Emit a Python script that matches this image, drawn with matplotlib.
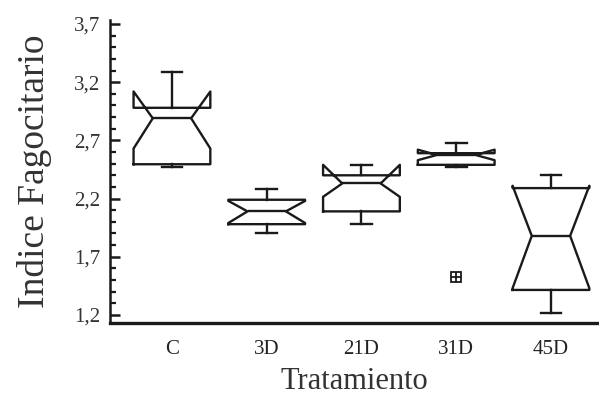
import matplotlib
matplotlib.use("Agg")
import matplotlib.pyplot as plt
from matplotlib.ticker import MultipleLocator

# data
groups = ["C", "3D", "21D", "31D", "45D"]
whislo = [2.475, 1.90, 1.98, 2.475, 1.215]
q1 = [2.495, 1.98, 2.09, 2.49, 1.415]
med = [2.89, 2.09, 2.33, 2.575, 1.88]
q3 = [2.98, 2.19, 2.40, 2.59, 2.29]
whishi = [3.285, 2.28, 2.49, 2.675, 2.405]
cilo = [2.63, 1.99, 2.215, 2.53, 1.43]
cihi = [3.12, 2.18, 2.49, 2.62, 2.31]
fliers = [[], [], [], [1.53], []]

yticks = [1.2, 1.7, 2.2, 2.7, 3.2, 3.7]
ytick_labels = ["1,2", "1,7", "2,2", "2,7", "3,2", "3,7"]

plt.rcParams['font.family'] = ['Liberation Serif', 'DejaVu Serif']

stats = []
for i, g in enumerate(groups):
    stats.append(dict(label=g, whislo=whislo[i], q1=q1[i], med=med[i], q3=q3[i],
                      whishi=whishi[i], cilo=cilo[i], cihi=cihi[i], fliers=fliers[i]))

fig = plt.figure(figsize=(5.99, 4.05), dpi=100)
ax = fig.add_axes([0.1836, 0.2025, 0.8164, 0.748])

lc = '#1a1a1a'
lw = 1.7
pos = list(range(1, len(groups) + 1))
ax.bxp(stats, positions=pos, widths=0.81, shownotches=True, capwidths=0.22,
       boxprops=dict(color=lc, linewidth=lw),
       medianprops=dict(color=lc, linewidth=lw),
       whiskerprops=dict(color=lc, linewidth=lw),
       capprops=dict(color=lc, linewidth=lw),
       flierprops=dict(marker='s', markersize=7, markerfacecolor='white',
                       markeredgecolor=lc, markeredgewidth=1.3))
# plus sign inside the outlier square
for p, f in zip(pos, fliers):
    if f:
        ax.plot([p] * len(f), f, marker='+', linestyle='none', markersize=7,
                color=lc, markeredgewidth=1.3)

ax.set_xlim(0.346, 5.507)
ax.set_ylim(1.131, 3.734)
ax.set_yticks(yticks)
ax.set_yticklabels(ytick_labels)
ax.yaxis.set_minor_locator(MultipleLocator(0.1))
ax.tick_params(axis='y', which='major', direction='in', length=7, width=1.8,
               labelsize=15, pad=7, colors=lc, labelcolor='#333333')
ax.tick_params(axis='y', which='minor', direction='in', length=4, width=1.6, colors=lc)
ax.tick_params(axis='x', length=0, labelsize=15, pad=12, colors=lc, labelcolor='#222222')

for s in ['top', 'right']:
    ax.spines[s].set_visible(False)
ax.spines['left'].set_linewidth(1.8)
ax.spines['bottom'].set_linewidth(2.4)
ax.spines['left'].set_color(lc)
ax.spines['bottom'].set_color(lc)

ax.set_xlabel("Tratamiento", fontsize=22, color='#333333', labelpad=6)
ax.set_ylabel("Indice Fagocitario", fontsize=27, color='#333333', labelpad=16)

fig.savefig("out.png", dpi=100)
